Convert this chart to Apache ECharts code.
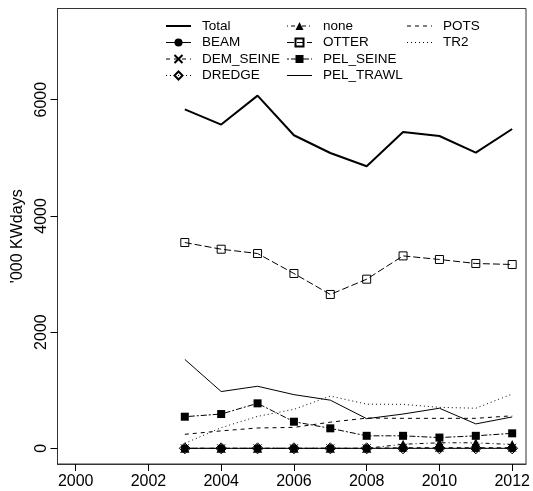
<!DOCTYPE html>
<html>
<head>
<meta charset="utf-8">
<script src="https://cdn.jsdelivr.net/npm/echarts@6/dist/echarts.min.js"></script>
<style>
html, body { margin: 0; padding: 0; background: #fff; }
#chart { width: 533px; height: 491px; }
</style>
</head>
<body>
<div id="chart"></div>
<script>
var years = [2003, 2004, 2005, 2006, 2007, 2008, 2009, 2010, 2011, 2012];
var total = [5835, 5572, 6070, 5388, 5083, 4855, 5445, 5376, 5090, 5496];
var beam = [0, 0, 0, 0, 0, 0, 0, 0, 0, 0];
var demSeine = [0, 0, 0, 0, 0, 0, 10, 10, 10, 10];
var dredge = [0, 0, 0, 0, 0, 0, 0, 0, 0, 0];
var none = [0, 0, 0, 0, 0, 0, 70, 95, 95, 65];
var otter = [3542, 3427, 3353, 3009, 2648, 2911, 3312, 3250, 3181, 3164];
var pelSeine = [544, 590, 774, 458, 344, 215, 215, 185, 215, 258];
var pelTrawl = [1530, 977, 1068, 924, 829, 510, 590, 690, 420, 540];
var pots = [241, 300, 350, 360, 450, 520, 516, 516, 516, 560];
var tr2 = [86, 355, 550, 670, 900, 760, 757, 705, 690, 934];
var xTicks = [2000, 2002, 2004, 2006, 2008, 2010, 2012];
var yTicks = [0, 2000, 4000, 6000];

function pairs(vals) {
    var out = [];
    for (var i = 0; i < years.length; i++) {
        out.push([years[i], vals[i]]);
    }
    return out;
}

var open = {color: 'rgba(0,0,0,0)', borderColor: '#000', borderWidth: 1};
var filled = {color: '#000'};

function mk(name, vals, dash, symbol, size, item, width) {
    return {
        name: name,
        type: 'line',
        data: pairs(vals),
        symbol: symbol || 'none',
        showSymbol: !!symbol,
        symbolSize: size || 8,
        itemStyle: item || filled,
        lineStyle: {color: '#000', width: width || 1, type: dash},
        emphasis: {disabled: true}
    };
}

// legend entries for lines without a point symbol
function noSym(name, w) {
    return {name: name, itemStyle: {opacity: 0}, lineStyle: {width: w || 1}};
}

var font = 'Liberation Sans, Arial';
var chart = echarts.init(document.getElementById('chart'));
var legendBase = {
    orient: 'vertical',
    top: 19,
    padding: 0,
    itemWidth: 25,
    itemHeight: 10,
    itemGap: 2.5,
    selectedMode: false,
    lineStyle: {width: 1},
    textStyle: {fontFamily: font, fontSize: 13.5, color: '#000', padding: [0, 0, 0, 6]}
};
var option = {
    animation: false,
    backgroundColor: '#fff',
    grid: {left: 57.5, top: 8.5, right: 7, bottom: 27, show: true, borderColor: '#333', borderWidth: 1},
    legend: [
        Object.assign({left: 165, data: [noSym('Total', 2), 'BEAM', 'DEM_SEINE', 'DREDGE']}, legendBase),
        Object.assign({left: 286.5, data: ['none', 'OTTER', 'PEL_SEINE', noSym('PEL_TRAWL')]}, legendBase),
        Object.assign({left: 406.5, data: [noSym('POTS'), noSym('TR2')]}, legendBase)
    ],
    xAxis: {
        type: 'value',
        min: 1999.5,
        max: 2012.38,
        axisLine: {show: true, onZero: false, lineStyle: {color: '#333'}},
        splitLine: {show: false},
        axisTick: {show: true, length: 7, lineStyle: {color: '#000'}, customValues: xTicks},
        axisLabel: {
            customValues: xTicks, margin: 10, color: '#000',
            fontFamily: font, fontSize: 16,
            formatter: function (v) { return String(v); }
        }
    },
    yAxis: {
        type: 'value',
        min: -270,
        max: 7570,
        name: "'000 KWdays",
        nameLocation: 'middle',
        nameRotate: 90,
        nameGap: 23,
        nameTextStyle: {fontFamily: font, fontSize: 16, color: '#000'},
        axisLine: {show: true, onZero: false, lineStyle: {color: '#333'}},
        splitLine: {show: false},
        axisTick: {show: true, length: 7, lineStyle: {color: '#000'}, customValues: yTicks},
        axisLabel: {
            customValues: yTicks, rotate: 90, margin: 8, color: '#000',
            fontFamily: font, fontSize: 16,
            formatter: function (v) { return String(v); }
        }
    },
    series: [
        mk('Total', total, 'solid', null, 0, null, 2),
        mk('BEAM', beam, 'solid', 'circle', 8, filled),
        mk('DEM_SEINE', demSeine, [4, 4], 'path://M0,0L10,10M10,0L0,10', 8, open),
        mk('DREDGE', dredge, [1, 3], 'diamond', 11, open),
        mk('none', none, [1, 3, 4, 3], 'triangle', 9, filled),
        mk('OTTER', otter, [7, 3], 'rect', 8, open),
        mk('PEL_SEINE', pelSeine, [2, 2, 6, 2], 'rect', 8, filled),
        mk('PEL_TRAWL', pelTrawl, 'solid'),
        mk('POTS', pots, [4, 4]),
        mk('TR2', tr2, [1, 3])
    ]
};
chart.setOption(option);
</script>
</body>
</html>
